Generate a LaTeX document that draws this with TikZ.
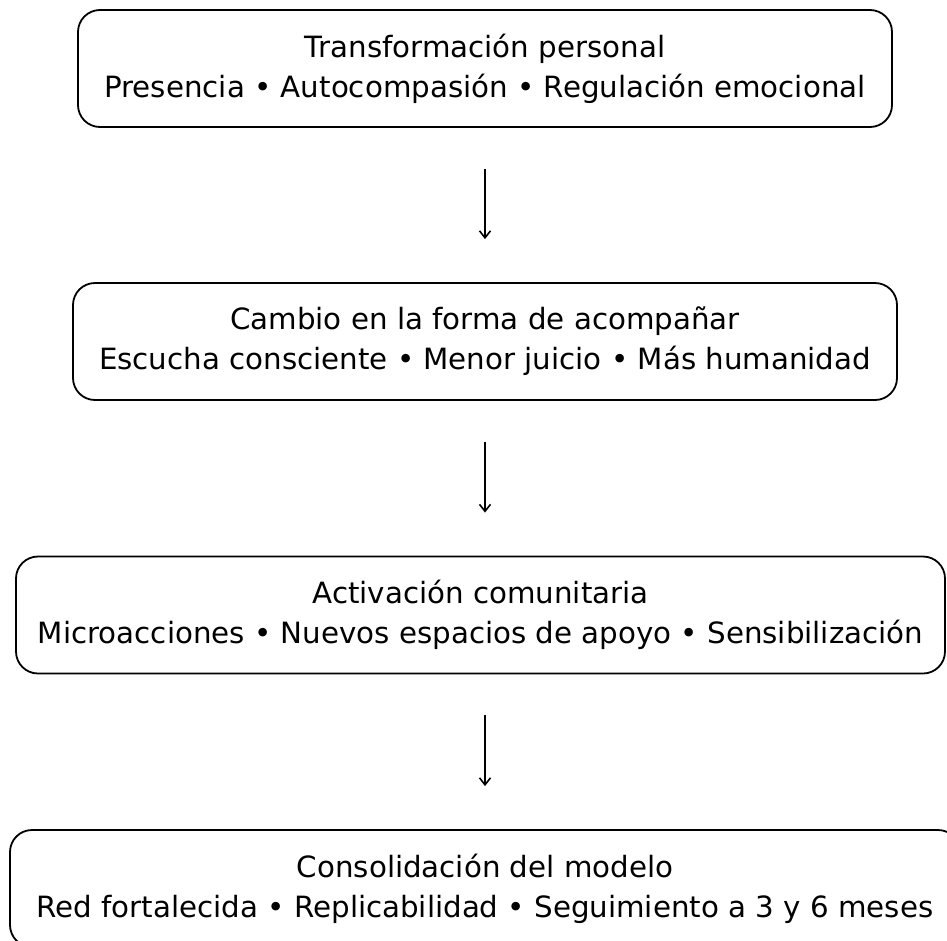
\documentclass[tikz,border=0pt]{standalone}
\usepackage{fontspec}
\setmainfont{DejaVu Sans}
\usetikzlibrary{arrows.meta}

\tikzset{
  etapa/.style={draw, rounded corners=22pt, line width=1.8pt, align=center,
    inner sep=0pt, minimum height=117pt,
    font=\fontsize{29.3}{40}\selectfont},
  flecha/.style={-{Straight Barb[length=7pt,width=11pt]}, line width=1.6pt,
    shorten <=41pt, shorten >=43pt}
}

\begin{document}
\begin{tikzpicture}[x=1pt,y=-1pt]
    \useasboundingbox (0,0) rectangle (947,940);
    \clip (0,0) rectangle (947,940);

    \node[etapa, minimum width=814pt] (personal) at (485,68.5)
    {Transformación personal\\Presencia • Autocompasión • Regulación emocional};
    \node[etapa, minimum width=824pt] (acompanar) at (485,341.5)
    {Cambio en la forma de acompañar\\Escucha consciente • Menor juicio • Más humanidad};
    \node[etapa, minimum width=929pt] (comunidad) at (480.5,615)
    {Activación comunitaria\\Microacciones • Nuevos espacios de apoyo • Sensibilización};
    \node[etapa, minimum width=950pt] (modelo) at (485,888.5)
    {Consolidación del modelo\\Red fortalecida • Replicabilidad • Seguimiento a 3 y 6 meses};

    \draw[flecha] (personal.south) -- (personal.south |- acompanar.north);
    \draw[flecha] (acompanar.south) -- (acompanar.south |- comunidad.north);
    \draw[flecha] (acompanar.south |- comunidad.south) -- (acompanar.south |- modelo.north);
\end{tikzpicture}
\end{document}
